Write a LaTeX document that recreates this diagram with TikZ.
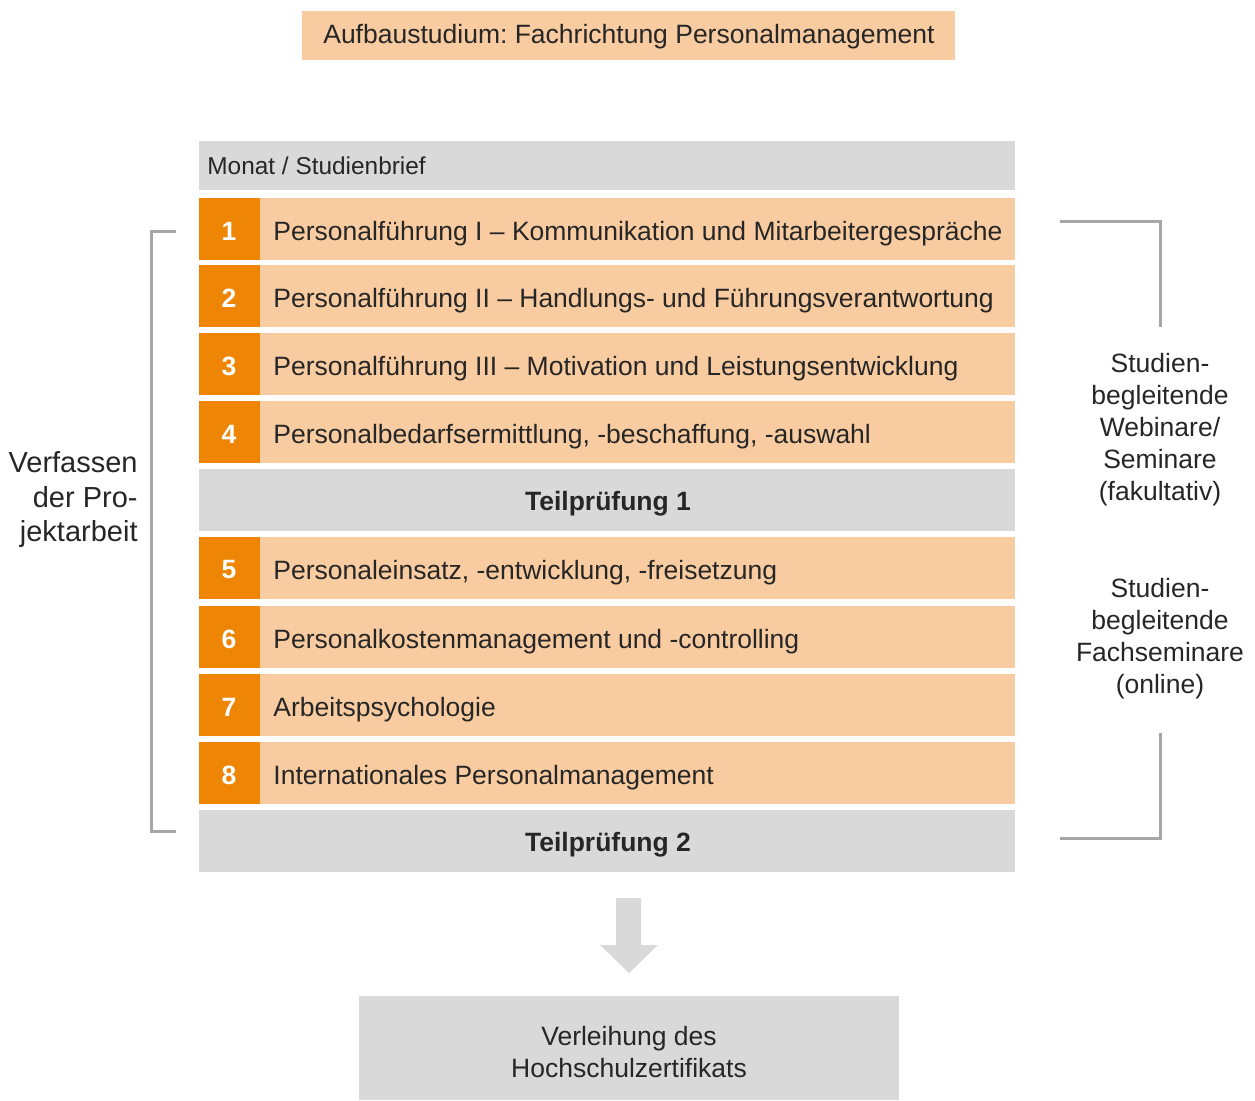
\documentclass[tikz,border=0pt]{standalone}
\usepackage{fontspec}
\setmainfont{Liberation Sans}
\frenchspacing
\definecolor{hellorange}{HTML}{F8CCA0}
\definecolor{dunkelorange}{HTML}{EE8505}
\definecolor{hellgrau}{HTML}{D9D9D9}
\definecolor{klammergrau}{HTML}{A6A6A6}
\newcommand{\FN}{\fontsize{13.25}{16}\selectfont}
\newcommand{\FK}{\fontsize{12.2}{15}\selectfont}
\newcommand{\FG}{\fontsize{14.5}{17.25}\selectfont}

\begin{document}
\begin{tikzpicture}[x=0.5pt,y=-0.5pt]
\tikzstyle{texto}=[draw=none,fill=none,black!85!white,font=\FN,inner sep=0pt]
\tikzstyle{nummer}=[texto,white,font=\FN\bfseries]
\tikzstyle{klammer}=[klammergrau,line width=1.5pt]

\useasboundingbox (0,0) rectangle (1255,1100);

% Titel
\fill[hellorange] (302,11) rectangle (955,60);
\node[texto] (titel) at (629,37) {Aufbaustudium: Fachrichtung Personalmanagement};

% Kopfzeile
\fill[hellgrau] (199,141) rectangle (1015,190);
\node[texto,font=\FK,anchor=west] (kopf) at (207,166) {Monat / Studienbrief};

% Studienbriefe
\foreach \n/\y/\t in {1/198/{Personalführung I – Kommunikation und Mitarbeitergespräche},
                      2/265/{Personalführung II – Handlungs- und Führungsverantwortung},
                      3/333/{Personalführung III – Motivation und Leistungsentwicklung},
                      4/401/{Personalbedarfsermittlung, -beschaffung, -auswahl},
                      5/537/{Personaleinsatz, -entwicklung, -freisetzung},
                      6/606/{Personalkostenmanagement und -controlling},
                      7/674/{Arbeitspsychologie},
                      8/742/{Internationales Personalmanagement}}{
  \fill[dunkelorange] (199,\y) rectangle ++(61,62);
  \fill[hellorange] (260,\y) rectangle ++(755,62);
  \node[nummer] (n\n) at (229,\y+33) {\n};
  \node[texto,anchor=west] (b\n) at (273,\y+36) {\t};
}

% Teilpruefungen
\fill[hellgrau] (199,469) rectangle (1015,531);
\node[texto,font=\FN\bfseries] (tp1) at (608,504) {Teilprüfung 1};
\fill[hellgrau] (199,810) rectangle (1015,872);
\node[texto,font=\FN\bfseries] (tp2) at (608,845) {Teilprüfung 2};

% Klammer links
\coordinate (lo) at (176,231);
\coordinate (lu) at (176,831);
\draw[klammer] (lo) -- (151,231) -- (151,831) -- (lu);
\node[texto,font=\FG,align=right,anchor=east] (projekt) at (138,500) {Verfassen\\der Pro-\\jektarbeit};

% Klammern rechts
\coordinate (ro) at (1060,221);
\coordinate (ru) at (1060,838);
\draw[klammer] (ro) -- (1160,221) -- (1160,327);
\draw[klammer] (1160,733) -- (1160,838) -- (ru);
\node[texto,align=center] (webinare) at (1160,430) {Studien-\\begleitende\\Webinare/\\Seminare\\(fakultativ)};
\node[texto,align=center] (seminare) at (1160,639) {Studien-\\begleitende\\Fachseminare\\(online)};

% Pfeil
\fill[hellgrau] (616,898) -- (641,898) -- (641,945) -- (658,945) -- (629,973)
  -- (600,945) -- (616,945) -- cycle;

% Zertifikat
\fill[hellgrau] (359,996) rectangle (899,1100);
\node[texto,align=center] (zertifikat) at (629,1052) {Verleihung des\\Hochschulzertifikats};
\end{tikzpicture}
\end{document}
